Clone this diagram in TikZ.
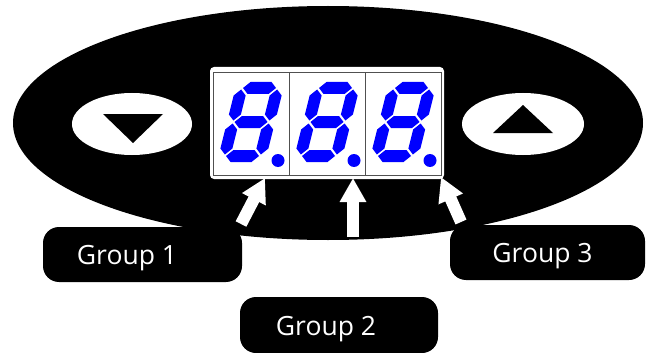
\documentclass[tikz,border=0pt]{standalone}
\usepackage{fontspec}
\newfontfamily\grpfont{Open Sans}
\usetikzlibrary{arrows.meta, positioning}
\definecolor{SegBlue}{RGB}{0, 0, 255}
\definecolor{CellLine}{RGB}{80, 80, 80}

\begin{document}
\begin{tikzpicture}[x=1pt, y=-1pt,
    grpbox/.style={fill=black, rounded corners=16pt, inner sep=0pt},
    grptext/.style={text=white, font=\grpfont\fontsize{26.5}{30}\selectfont, inner sep=0pt, anchor=base},
    pointer/.style={white, line width=12pt, -{Triangle[length=24pt, width=25pt]}},
    cell/.style={draw=CellLine, line width=0.8pt, minimum width=76pt, minimum height=103pt, inner sep=0pt}]
    \useasboundingbox (0,0) rectangle (651,353);

    % Carcasa
    \fill[black] (328,123) ellipse [x radius=315pt, y radius=117pt];

    % Botones
    \fill[white] (132,124) ellipse [x radius=60pt, y radius=31pt];
    \fill[black] (103,114) -- (163,114) -- (133,143) -- cycle;
    \fill[white] (523,124) ellipse [x radius=61pt, y radius=31pt];
    \fill[black] (523,105) -- (553,133) -- (493,133) -- cycle;

    % Pantalla
    \fill[white, rounded corners=4pt] (210,67) rectangle (444,179);
    \node[cell] (c1) at (251,123.5) {};
    \node[cell] (c2) at (327,123.5) {};
    \node[cell] (c3) at (403,123.5) {};

    % Digitos
    \foreach \cl in {213,289,365} {
      \begin{scope}[shift={(\cl+38,122)}, xslant=0.25]
        \foreach \yy in {-34,0,34}
          \fill[SegBlue, shift={(0,\yy)}] (-16.5,0) -- (-10.5,-6) -- (10.5,-6) -- (16.5,0) -- (10.5,6) -- (-10.5,6) -- cycle;
        \foreach \xx/\yy in {-18/-17, 18/-17, -18/17, 18/17}
          \fill[SegBlue, shift={(\xx,\yy)}] (0,-15.5) -- (6,-9.5) -- (6,9.5) -- (0,15.5) -- (-6,9.5) -- (-6,-9.5) -- cycle;
      \end{scope}
      \fill[SegBlue] (\cl+65,160.5) circle (6.5pt);
    }

    % Flechas
    \coordinate (tail1) at (241,224);
    \coordinate (tip1) at (265,178);
    \coordinate (tail2) at (353,237);
    \coordinate (tip2) at (353,178);
    \coordinate (tail3) at (461,222);
    \coordinate (tip3) at (441,177);
    \draw[pointer] (tail1) -- (tip1);
    \draw[pointer] (tail2) -- (tip2);
    \draw[pointer] (tail3) -- (tip3);

    % Grupos
    \node[grpbox, minimum width=199pt, minimum height=55pt] (box1) at (142.5,254.5) {};
    \node[grptext] (g1) at (127,264) {Group 1};
    \node[grpbox, minimum width=195pt, minimum height=55pt] (box3) at (547.5,252.5) {};
    \node[grptext] (g3) at (542.5,262) {Group 3};
    \node[grpbox, minimum width=198pt, minimum height=56pt] (box2) at (339,325) {};
    \node[grptext] (g2) at (326,335) {Group 2};
  \end{tikzpicture}
\end{document}
